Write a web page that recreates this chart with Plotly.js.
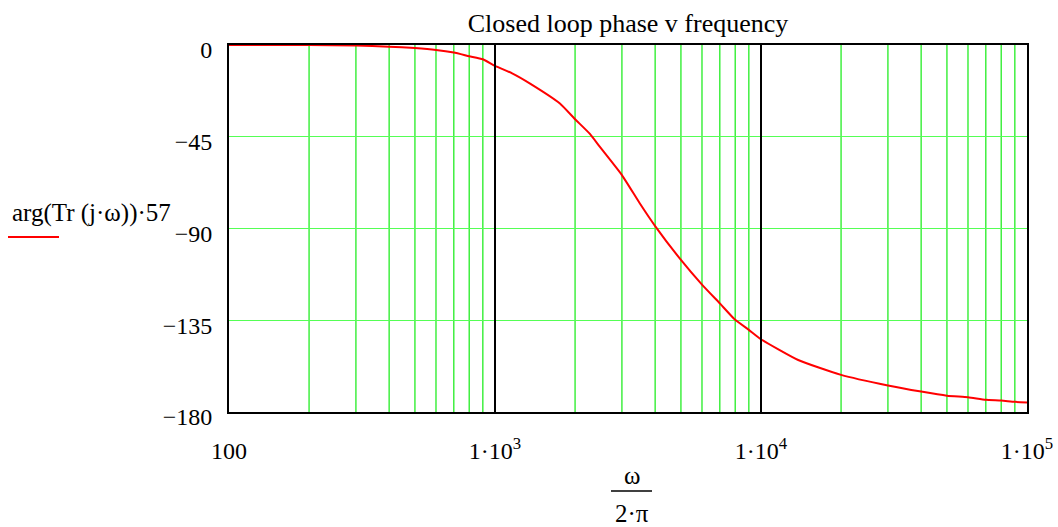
<!DOCTYPE html>
<html>
<head>
<meta charset="utf-8">
<script src="https://cdn.plot.ly/plotly-3.0.1.min.js"></script>
<style>html,body{margin:0;padding:0;background:#fff;}#plot{width:1058px;height:527px;}</style>
</head>
<body>
<div id="plot"></div>
<script>
// Data
const freq = [100, 200, 300, 400, 500, 600, 700, 800, 900, 1000, 1160, 1350, 1750, 2000, 2270, 2480, 3000, 3500, 4000, 5000, 6000, 7000, 8000, 9000, 10000, 13800, 20000, 30000, 40000, 50000, 60000, 70000, 80000, 90000, 100000];
const phase = [0, 0, -0.3, -0.8, -1.5, -2.4, -3.7, -5.5, -7, -10.2, -13.9, -18.8, -28.6, -36.4, -43.5, -50, -63.8, -77.6, -88.8, -105.4, -117.5, -126.7, -134.8, -139.7, -144.3, -154.5, -161.8, -167, -170, -172, -172.8, -174, -174.4, -175, -175.3];

const decadeVals = [100, 1000, 10000, 100000];
const decadeLabels = ['100', '1·10<sup>3</sup>', '1·10<sup>4</sup>', '1·10<sup>5</sup>'];
const yTickVals = [0, -45, -90, -135, -180];
const yTickLabels = ['0', '\u221245', '\u221290', '\u2212135', '\u2212180'];
const titleText = 'Closed loop phase v frequency';
const legendText = 'arg(Tr (j·ω))·57';

const logMin = Math.log10(decadeVals[0]);
const logMax = Math.log10(decadeVals[decadeVals.length - 1]);

const L = 229, R = 1027, T = 45, B = 412;
const PW = R - L, PH = B - T;
const px = (x) => (x - L) / PW;
const py = (y) => (B - y) / PH;
const lx = (v) => (Math.log10(v) - logMin) / (logMax - logMin);

const shapes = [];
// vertical grid: green at 2..9 within each decade, black at interior decades
for (let d = 0; d < decadeVals.length - 1; d++) {
  for (let m = 1; m <= 9; m++) {
    const v = decadeVals[d] * m;
    if (m === 1 && d === 0) continue;
    const p = lx(v);
    shapes.push({type: 'line', xref: 'paper', yref: 'paper', x0: p, x1: p, y0: 0, y1: 1,
      line: {color: m === 1 ? '#000' : '#33ee33', width: m === 1 ? 2 : 1.4},
      layer: m === 1 ? 'above' : 'below'});
  }
}
// legend line sample
shapes.push({type: 'line', xref: 'paper', yref: 'paper',
  x0: px(8), x1: px(59), y0: py(237), y1: py(237),
  line: {color: '#ff0000', width: 2}});
// fraction bar for x title
shapes.push({type: 'line', xref: 'paper', yref: 'paper',
  x0: px(611), x1: px(652), y0: py(491), y1: py(491),
  line: {color: '#000', width: 1.5}});

const family = 'Liberation Serif, Times New Roman, serif';
const tickFont = {family: family, size: 24, color: '#000'};
const textFont = {family: family, size: 25, color: '#000'};
const titleFont = {family: family, size: 26, color: '#000'};

const trace = {
  x: freq, y: phase, type: 'scatter', mode: 'lines',
  line: {color: '#ff0000', width: 2, shape: 'spline', smoothing: 0.5},
  hoverinfo: 'skip'
};

const layout = {
  width: 1058, height: 527,
  margin: {l: L, r: 1058 - R, t: T, b: 527 - B},
  paper_bgcolor: '#fff', plot_bgcolor: '#fff',
  showlegend: false,
  font: tickFont,
  xaxis: {
    type: 'log', range: [logMin, logMax],
    tickmode: 'array', tickvals: decadeVals, ticktext: decadeLabels,
    showgrid: false,
    ticks: '', showline: true, linecolor: '#000', linewidth: 2, mirror: true,
    zeroline: false, tickfont: tickFont, ticklabelstandoff: 16
  },
  yaxis: {
    range: [-180, 0],
    tickmode: 'array', tickvals: yTickVals, ticktext: yTickLabels,
    showgrid: true, gridcolor: '#55ff55', gridwidth: 1.4,
    ticks: '', showline: true, linecolor: '#000', linewidth: 2, mirror: true,
    zeroline: false, tickfont: tickFont, ticklabelstandoff: 10, ticklabelshift: 5
  },
  title: {text: titleText, font: titleFont, x: 0.5, xanchor: 'center', xref: 'paper', y: 1 - 23 / 527, yanchor: 'middle'},
  shapes: shapes,
  annotations: [
    {text: legendText, xref: 'paper', yref: 'paper', x: px(10), y: py(213),
      xanchor: 'left', yanchor: 'middle', showarrow: false, font: textFont},
    {text: 'ω', xref: 'paper', yref: 'paper', x: px(632), y: py(476),
      xanchor: 'center', yanchor: 'middle', showarrow: false, font: textFont},
    {text: '2·π', xref: 'paper', yref: 'paper', x: px(632), y: py(513),
      xanchor: 'center', yanchor: 'middle', showarrow: false, font: textFont}
  ]
};

Plotly.newPlot('plot', [trace], layout, {staticPlot: true, displayModeBar: false});
</script>
</body>
</html>
